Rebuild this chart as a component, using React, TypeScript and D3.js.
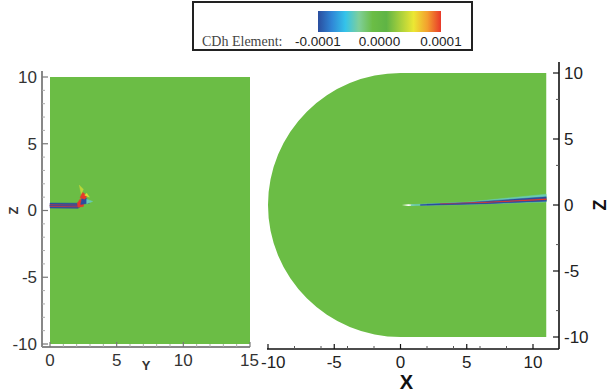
import * as d3 from 'd3'

// colour legend
const legendTicks = [-0.0001, 0, 0.0001]
const legendColors = ['#2a4d9e', '#2f86d6', '#34c3ea', '#7fcf9a', '#6bbd45', '#5fb445', '#a6cf3c', '#ece733', '#f3a02e', '#e8382a']

// left view (Y-Z plane), coordinates in data units, value = CDh element
const leftYTicks = [0, 5, 10, 15]
const leftZTicks = [-10, -5, 0, 5, 10]
const leftWake = [
  { value: -0.0001, points: [[0, 0.18], [2.1, 0.16], [2.35, 0.35], [2.2, 0.55], [0, 0.56]] },
  { value: 0.0001, points: [[0, 0.3], [2.1, 0.27], [2.2, 0.4], [0, 0.43]] },
  { value: -0.00011, points: [[0, 0.35], [2.1, 0.32], [2.15, 0.36], [0, 0.39]] },
  { value: 0.00004, points: [[2.2, 1.9], [2.35, 1.2], [2.5, 1.6]] },
  { value: 0.0001, points: [[2.1, 0.25], [2.5, 0.3], [2.55, 0.75], [2.25, 0.85], [2.05, 0.55]] },
  { value: -0.0001, points: [[2.3, 0.45], [2.95, 0.55], [2.75, 0.9], [2.4, 1.0]] },
  { value: -0.00004, points: [[2.75, 0.5], [3.2, 0.68], [2.75, 0.85]] },
  { value: 0.0001, points: [[2.25, 0.95], [2.6, 0.85], [2.8, 1.1], [2.45, 1.35]] },
  { value: 0.00005, points: [[2.6, 1.15], [2.95, 1.0], [2.75, 1.3]] },
]

// right view (X-Z plane)
const rightXTicks = [-10, -5, 0, 5, 10]
const rightZTicks = [-10, -5, 0, 5, 10]
const domainRadius = 10
const domainOutlet = 11
const rightWake = [
  { value: -0.00004, points: [[0.8, 0.03], [5, 0.22], [11, 0.82], [11, 0.22], [5, 0.04], [0.8, -0.05]] },
  { value: -0.0001, points: [[1.5, 0.03], [5, 0.19], [11, 0.62], [11, 0.33], [5, 0.07], [1.5, -0.03]] },
  { value: 0.0001, points: [[3, 0.09], [7, 0.24], [11, 0.47], [11, 0.39], [7, 0.17], [3, 0.05]] },
  { value: -0.00013, points: [[2, 0.05], [6, 0.13], [11, 0.34], [11, 0.28], [6, 0.08], [2, 0.01]] },
]

const GREEN = '#6bbd45'

const colorScale = d3
  .scaleLinear<string>()
  .domain(d3.range(legendColors.length).map((i) => -0.0001 + (0.0002 * i) / (legendColors.length - 1)))
  .range(legendColors)
  .clamp(true)

export default function App() {
  // left panel scales
  const ly = d3.scaleLinear().domain([0, 15]).range([50, 250])
  const lz = d3.scaleLinear().domain([-10, 10]).range([344, 77])
  // right panel scales
  const rx = d3.scaleLinear().domain([-10, 10]).range([268, 533])
  const rz = d3.scaleLinear().domain([-10, 10]).range([337, 73])
  const lb = d3.scaleLinear().domain([-0.0001, 0.0001]).range([318, 441])

  const poly = (sx: d3.ScaleLinear<number, number>, sy: d3.ScaleLinear<number, number>) =>
    d3.line<number[]>().x((d) => sx(d[0])).y((d) => sy(d[1])).curve(d3.curveLinearClosed)

  const lLine = poly(ly, lz)
  const rLine = poly(rx, rz)

  const rxAxisY = 349
  const rzAxisX = 559
  const lzAxisX = 42
  const lyAxisY = 347

  const ellipseRx = rx(0) - rx(-domainRadius)
  const ellipseRy = rz(-domainRadius) - rz(0)
  const domainPath =
    `M${rx(0)},${rz(domainRadius)}L${rx(domainOutlet)},${rz(domainRadius)}` +
    `L${rx(domainOutlet)},${rz(-domainRadius)}L${rx(0)},${rz(-domainRadius)}` +
    `A${ellipseRx},${ellipseRy} 0 0 1 ${rx(0)},${rz(domainRadius)}Z`

  const minorL = d3.range(-10, 11, 1).filter((v) => v % 5 !== 0)
  const minorLY = d3.range(0, 16, 1).filter((v) => v % 5 !== 0)
  const minorR = d3.range(-10, 12, 2).filter((v) => v % 5 !== 0)
  const minorRZ = [-8, -3, 3, 8]

  const sans = 'Arial, "Liberation Sans", Helvetica, sans-serif'

  return (
    <svg width={610} height={392} style={{ position: 'absolute', left: 0, top: 0 }} fontFamily={sans}>
      <defs>
        <linearGradient id="cbar" x1="0" x2="1" y1="0" y2="0">
          {legendColors.map((c, i) => (
            <stop key={i} offset={i / (legendColors.length - 1)} stopColor={c} />
          ))}
        </linearGradient>
      </defs>
      <rect width={610} height={392} fill="#fff" />

      {/* legend */}
      <rect x={193} y={2} width={279} height={48} fill="#fff" stroke="#222" strokeWidth={2} />
      <rect x={lb(-0.0001)} y={11} width={lb(0.0001) - lb(-0.0001)} height={21} fill="url(#cbar)" />
      <text x={202} y={46} fontFamily='"Liberation Serif", "Times New Roman", serif' fontSize={14} fill="#444">
        CDh Element:
      </text>
      {legendTicks.map((t) => (
        <text key={t} x={lb(t)} y={46} textAnchor="middle" fontSize={13.5} fill="#222">
          {t === 0 ? '0.0000' : t.toFixed(4)}
        </text>
      ))}

      {/* left panel */}
      <rect x={ly(0)} y={lz(10)} width={ly(15) - ly(0)} height={lz(-10) - lz(10)} fill={GREEN} />
      {leftWake.map((w, i) => (
        <path key={i} d={lLine(w.points) ?? ''} fill={colorScale(w.value)} stroke={colorScale(w.value)} strokeWidth={0.5} />
      ))}
      <line x1={lzAxisX} x2={lzAxisX} y1={lz(10) - 6} y2={lyAxisY} stroke="#888" strokeWidth={2} />
      <line x1={lzAxisX} x2={ly(15)} y1={lyAxisY} y2={lyAxisY} stroke="#888" strokeWidth={2} />
      {leftZTicks.map((t) => (
        <g key={t}>
          <line x1={lzAxisX} x2={lzAxisX + 6} y1={lz(t)} y2={lz(t)} stroke="#777" strokeWidth={1.2} />
          <text x={lzAxisX - 5} y={lz(t)} dy="0.35em" textAnchor="end" fontSize={17} fill="#333">
            {t}
          </text>
        </g>
      ))}
      {minorL.map((t) => (
        <line key={t} x1={lzAxisX} x2={lzAxisX + 3} y1={lz(t)} y2={lz(t)} stroke="#aaa" strokeWidth={1} />
      ))}
      {leftYTicks.map((t) => (
        <g key={t}>
          <line x1={ly(t)} x2={ly(t)} y1={lyAxisY} y2={lyAxisY - 5} stroke="#777" strokeWidth={1.2} />
          <text
            x={t === 15 ? ly(t) + 9 : ly(t)}
            y={lyAxisY + 19}
            textAnchor={t === 15 ? 'end' : 'middle'}
            fontSize={17}
            fill="#333"
          >
            {t}
          </text>
        </g>
      ))}
      {minorLY.map((t) => (
        <line key={t} x1={ly(t)} x2={ly(t)} y1={lyAxisY} y2={lyAxisY - 3} stroke="#aaa" strokeWidth={1} />
      ))}
      <text x={146} y={370} textAnchor="middle" fontSize={13} fontWeight="bold" fill="#333">
        Y
      </text>
      <text transform={`translate(13,${lz(0)}) rotate(-90)`} textAnchor="middle" dy="0.35em" fontSize={13} fontWeight="bold" fill="#333">
        Z
      </text>

      {/* right panel */}
      <path d={domainPath} fill={GREEN} />
      <path d={rLine([[0.1, 0], [0.6, 0.06], [1.2, 0], [0.6, -0.07]]) ?? ''} fill="#fff" />
      {rightWake.map((w, i) => (
        <path key={i} d={rLine(w.points) ?? ''} fill={colorScale(w.value)} stroke={colorScale(w.value)} strokeWidth={0.4} />
      ))}
      <line x1={rx(-10) - 1} x2={rzAxisX} y1={rxAxisY} y2={rxAxisY} stroke="#111" strokeWidth={1.6} />
      <line x1={rzAxisX} x2={rzAxisX} y1={62} y2={rxAxisY} stroke="#111" strokeWidth={1.6} />
      {rightXTicks.map((t) => (
        <g key={t}>
          <line x1={rx(t)} x2={rx(t)} y1={rxAxisY} y2={rxAxisY - 5} stroke="#111" strokeWidth={1.2} />
          <text
            x={t === -10 ? rx(t) - 7 : rx(t)}
            y={rxAxisY + 19}
            textAnchor={t === -10 ? 'start' : 'middle'}
            fontSize={17}
            fill="#222"
          >
            {t}
          </text>
        </g>
      ))}
      {minorR.map((t) => (
        <line key={t} x1={rx(t)} x2={rx(t)} y1={rxAxisY} y2={rxAxisY - 3} stroke="#555" strokeWidth={1} />
      ))}
      {rightZTicks.map((t) => (
        <g key={t}>
          <line x1={rzAxisX - 6} x2={rzAxisX} y1={rz(t)} y2={rz(t)} stroke="#111" strokeWidth={1.2} />
          <text x={rzAxisX + 5} y={rz(t)} dy="0.35em" textAnchor="start" fontSize={17} fill="#222">
            {t}
          </text>
        </g>
      ))}
      {minorRZ.map((t) => (
        <line key={t} x1={rzAxisX - 3} x2={rzAxisX} y1={rz(t)} y2={rz(t)} stroke="#555" strokeWidth={1} />
      ))}
      <text x={rx(0) + 6} y={389} textAnchor="middle" fontSize={20} fontWeight="bold" fill="#111">
        X
      </text>
      <text transform={`translate(600,${rz(0)}) rotate(-90)`} textAnchor="middle" dy="0.35em" fontSize={18} fontWeight="bold" fill="#111">
        Z
      </text>
    </svg>
  )
}
